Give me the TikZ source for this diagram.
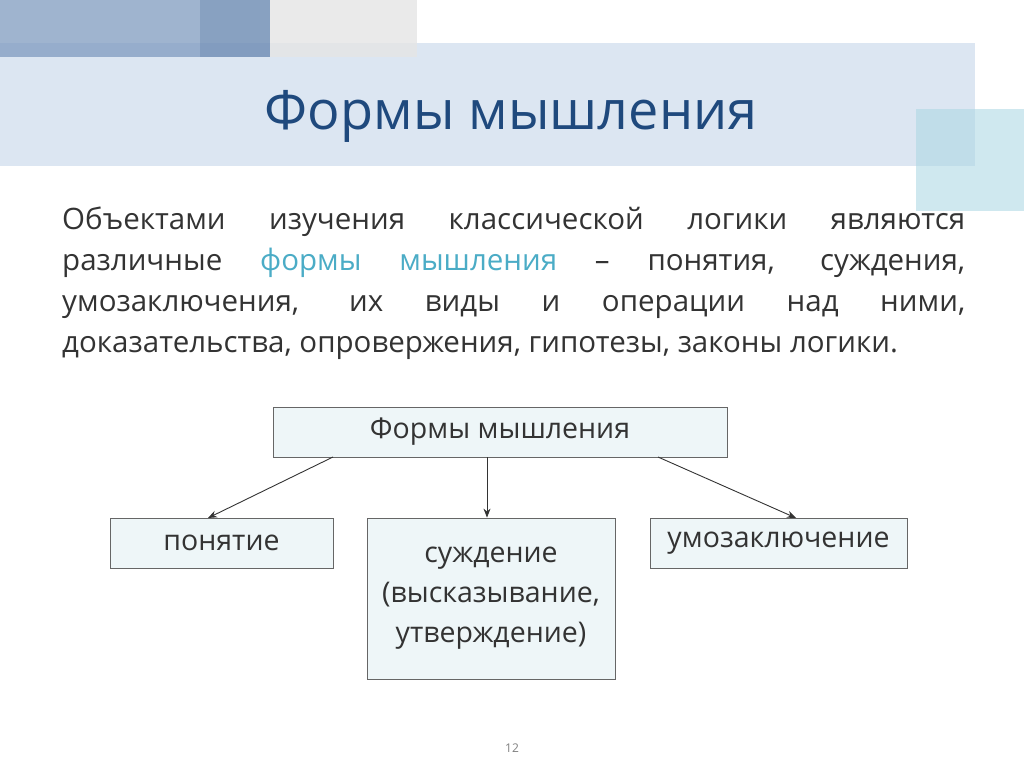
\documentclass[tikz,border=0pt]{standalone}
\usepackage{fontspec}
\setmainfont{Open Sans}
\usetikzlibrary{arrows.meta}
\definecolor{titlec}{HTML}{1F497D}
\definecolor{band}{HTML}{DCE6F2}
\definecolor{boxfill}{HTML}{EEF6F8}
\definecolor{txt}{HTML}{333333}
\definecolor{hl}{HTML}{4BACC6}
\definecolor{dk1}{HTML}{7F9BC0}
\definecolor{dk2}{HTML}{5E7FA8}
\definecolor{teal1}{HTML}{A9D6E3}
\tikzset{fbox/.style={draw=black!60,line width=0.8pt,fill=boxfill,text=txt,font=\fontsize{28.5}{40}\selectfont,align=center,inner sep=0pt},
arr/.style={-{Stealth[length=9pt,width=7pt]},line width=0.9pt,black!80}}
\begin{document}
\begin{tikzpicture}[x=1pt,y=-1pt]
\useasboundingbox (0,0) rectangle (1024,767);
\fill[white] (0,0) rectangle (1024,767);
\fill[band] (0,43) rectangle (975,166);
\fill[gray!20,opacity=0.8] (270,0) rectangle (417,57);
\fill[dk1,fill opacity=0.75] (0,0) rectangle (270,57);
\fill[dk2,fill opacity=0.35] (200,0) rectangle (270,57);
\fill[teal1,fill opacity=0.55] (916,109) rectangle (1024,211);
\node[text=titlec,font=\fontsize{54}{58}\selectfont] (title) at (511,116) {Формы мышления};
\node[anchor=north west,text width=903pt,align=justify,inner sep=0pt,text=txt,font=\fontsize{29.5}{41}\selectfont] (para) at (62,207)
{Объектами изучения классической логики являются\linebreak различные \textcolor{hl}{формы мышления} – понятия, суждения,\linebreak умозаключения, их виды и операции над ними,\linebreak доказательства, опровержения, гипотезы, законы логики.};
\node[fbox,minimum width=454pt,minimum height=50pt] (top) at (500,432) {Формы мышления};
\node[fbox,minimum width=223pt,minimum height=50pt] (p) at (221.5,543) {понятие};
\node[fbox,minimum width=248pt,minimum height=161pt] (s) at (491,598.5) {суждение\\(высказывание,\\утверждение)};
\node[fbox,minimum width=257pt,minimum height=50pt] (u) at (778.5,543) {умозаключение};
\coordinate (a1) at (333,457); \coordinate (a2) at (487,457); \coordinate (a3) at (658,457);
\draw[arr] (a1) -- (208,518);
\draw[arr] (a2) -- (s.north -| a2);
\draw[arr] (a3) -- (796,518);
\node[text=gray,font=\fontsize{12}{14}\selectfont] (num) at (512,748) {12};
\end{tikzpicture}
\end{document}
